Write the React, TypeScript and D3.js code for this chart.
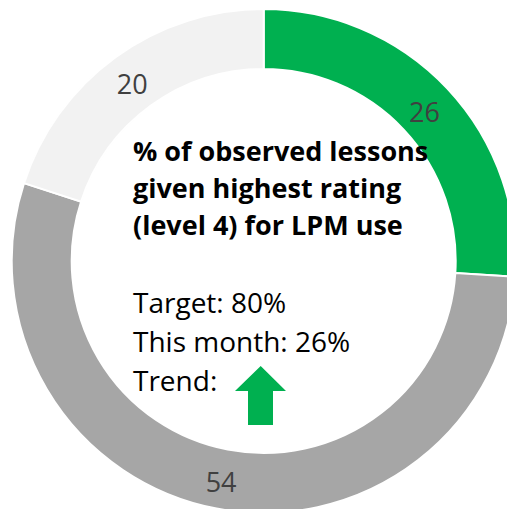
import React, { useEffect, useRef } from 'react';
import * as d3 from 'd3';

// slice data, clockwise from 12 o'clock
const categories = ['Level 4', 'Below level 4', 'Not observed'];
const values = [26, 54, 20];
const colors = ['#00B050', '#A6A6A6', '#F2F2F2'];

const titleLines = ['% of observed lessons', 'given highest rating', '(level 4) for LPM use'];
const infoLines = ['Target: 80%', 'This month: 26%', 'Trend:'];

const W = 507;
const H = 509;
const FONT = '"Open Sans", sans-serif';

const App = () => {
    const svgRef = useRef<SVGSVGElement>(null);

    useEffect(() => {
        drawChart();
    }, []);

    const drawChart = () => {
        const cx = 263.7;
        const cy = 261;
        const outerR = 252;
        const innerR = 192;

        const svg = d3.select(svgRef.current);
        svg.selectAll('*').remove();

        const g = svg.append('g').attr('transform', `translate(${cx},${cy})`);

        const pie = d3
            .pie<number>()
            .sort(null)
            .value(d => d);

        const arc = d3
            .arc<d3.PieArcDatum<number>>()
            .innerRadius(innerR)
            .outerRadius(outerR);

        const arcs = pie(values);

        g.selectAll('path.slice')
            .data(arcs)
            .enter()
            .append('path')
            .attr('class', 'slice')
            .attr('d', arc)
            .attr('fill', (d, i) => colors[i])
            .attr('stroke', '#ffffff')
            .attr('stroke-width', 2)
            .append('title')
            .text((d, i) => `${categories[i]}: ${d.data}`);

        g.selectAll('text.label')
            .data(arcs)
            .enter()
            .append('text')
            .attr('class', 'label')
            .attr('x', d => arc.centroid(d)[0] - 1)
            .attr('y', d => arc.centroid(d)[1] + 2)
            .attr('text-anchor', 'middle')
            .attr('dominant-baseline', 'central')
            .attr('font-family', FONT)
            .attr('font-size', 27)
            .attr('fill', '#404040')
            .text(d => String(d.data));

        // centre text block
        const textX = 133;
        svg.selectAll('text.title')
            .data(titleLines)
            .enter()
            .append('text')
            .attr('class', 'title')
            .attr('x', textX)
            .attr('y', (d, i) => 161 + i * 37)
            .attr('font-family', FONT)
            .attr('font-weight', 'bold')
            .attr('font-size', 27)
            .attr('fill', '#000000')
            .text(d => d);

        svg.selectAll('text.info')
            .data(infoLines)
            .enter()
            .append('text')
            .attr('class', 'info')
            .attr('x', textX)
            .attr('y', (d, i) => 313 + i * 39)
            .attr('font-family', FONT)
            .attr('font-size', 28)
            .attr('fill', '#000000')
            .text(d => d);

        // trend arrow
        const arrow = d3.path();
        arrow.moveTo(260.7, 366);
        arrow.lineTo(286, 391);
        arrow.lineTo(273, 391);
        arrow.lineTo(273, 425);
        arrow.lineTo(248, 425);
        arrow.lineTo(248, 391);
        arrow.lineTo(235, 391);
        arrow.closePath();
        svg.append('path').attr('d', arrow.toString()).attr('fill', '#00B050');
    };

    return (
        <svg
            ref={svgRef}
            width={W}
            height={H}
            style={{ position: 'absolute', left: 0, top: 0, background: '#ffffff' }}
        ></svg>
    );
};

export default App;
